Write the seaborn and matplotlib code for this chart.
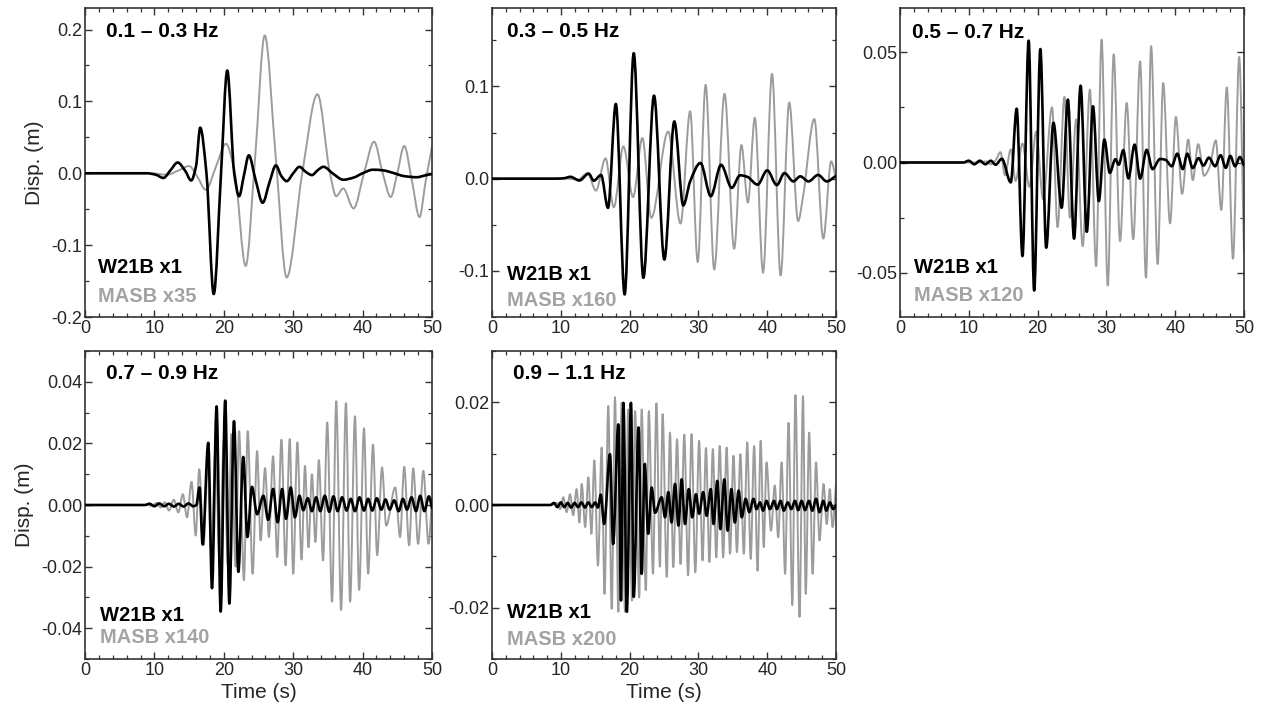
import numpy as np
import matplotlib
matplotlib.use("Agg")
import matplotlib.pyplot as plt
from matplotlib.path import Path
from matplotlib.patches import PathPatch
from matplotlib.ticker import MultipleLocator, FormatStrFormatter
import seaborn as sns

# ---------------------------------------------------------------------------
# Band-passed displacement records (time in s, displacement in m).
# W21B is shown at true scale, MASB is multiplied by the factor in MASB_SCALE.
# ---------------------------------------------------------------------------
BANDS = ["0.1 \u2013 0.3 Hz", "0.3 \u2013 0.5 Hz", "0.5 \u2013 0.7 Hz",
         "0.7 \u2013 0.9 Hz", "0.9 \u2013 1.1 Hz"]
MASB_SCALE = [35, 160, 120, 140, 200]

# 0.1 - 0.3 Hz
w21b_t_1 = [0, 8.9, 10.2, 11.3, 12.3, 13.35, 14.4, 15.3, 16.0, 16.6, 17.5,
            18.55, 19.6, 20.5, 21.5, 22.2, 22.9, 23.6, 24.6, 25.6,
            26.6, 27.5, 28.3, 29.06, 30.0, 30.9, 31.8, 32.7, 33.5, 34.35, 35.8, 37.2, 38.7,
            40.0, 41.5, 43.0, 44.4, 46.0, 47.8, 49.0, 50.0]
w21b_d_1 = [0, 0, -0.002, -0.0065, 0.004, 0.015, 0.004, -0.010, 0.01, 0.0635, 0.0,
            -0.168, 0.0, 0.143, 0.0, -0.032, -0.003, 0.025, -0.01, -0.041,
            -0.012, 0.011, -0.004, -0.011, 0.0, 0.009, 0.002, -0.0025, 0.004, 0.009, -0.001, -0.009, -0.006,
            0.0, 0.005, 0.004, 0.0005, -0.004, -0.0055, -0.003, -0.001]
masb_t_1 = [0, 9.4, 11.8, 13.5, 15.0, 16.2, 17.4, 18.9, 20.3, 21.6, 23.15,
            24.5, 25.9, 27.5, 29.06, 31.3, 33.5,
            35.3, 36.2, 37.2, 38.7, 40.2, 41.65, 42.9, 44.05, 45.0, 46.0, 47.1, 48.2, 49.1, 50.0]
masb_d_1 = [0, 0, -0.002, 0.004, 0.010, -0.005, -0.023, 0.01, 0.041, 0.0, -0.129,
            0.02, 0.192, 0.02, -0.145, 0.0, 0.110,
            0.0, -0.032, -0.021, -0.049, 0.0, 0.044, 0.0, -0.033, 0.0, 0.038, -0.01, -0.061, -0.01, 0.037]

# 0.3 - 0.5 Hz
w21b_t_2 = [0, 9.4, 10.5, 11.4, 12.7, 14.05, 14.8, 15.85, 16.86, 18.0, 19.28, 20.6, 22.0, 23.55,
            25.05, 26.5, 27.8, 28.8, 30.3, 31.8, 33.3, 34.85, 36.05, 37.1, 38.6, 40.0, 41.4,
            42.5, 43.8, 44.8, 46.0, 47.4, 48.65, 50.0]
w21b_d_2 = [0, 0, 0.0005, 0.002, -0.002, 0.0054, -0.0022, 0.004, -0.0317, 0.081, -0.1255, 0.136, -0.1075, 0.090,
            -0.0877, 0.062, -0.029, -0.003, 0.017, -0.019, 0.015, -0.010, 0.0036, 0.002, -0.0065, 0.009, -0.007,
            0.006, -0.003, 0.0025, -0.003, 0.004, -0.003, 0.003]
masb_t_2 = [0, 11.0, 12.5, 13.9, 15.1, 16.5, 17.7, 19.1, 20.5, 21.85, 23.15, 25.6, 27.4, 28.8,
            29.9, 31.05, 32.3, 33.8, 35.2, 36.25, 37.2, 38.2, 39.4, 40.7, 41.95, 43.2, 44.5,
            45.2, 46.85, 48.15, 49.3, 50.0]
masb_d_2 = [0, 0, -0.001, 0.006, -0.013, 0.022, -0.031, 0.035, -0.02, 0.044, -0.0425, 0.051, -0.0487, 0.073,
            -0.0905, 0.1017, -0.0985, 0.092, -0.076, 0.0364, -0.026, 0.066, -0.102, 0.1136, -0.105, 0.0826, -0.046,
            -0.02, 0.0646, -0.065, 0.0187, 0.0]

# 0.5 - 0.7 Hz
w21b_t_3 = [0, 9.2, 10.0, 10.8, 11.6, 12.4, 13.2, 13.9, 14.8, 16.1, 16.96, 17.8, 18.7, 19.5,
            20.4, 21.25, 22.3, 23.5, 24.4, 25.3, 26.25, 27.15, 28.05, 28.9, 29.7, 30.5, 31.3,
            31.8, 32.45, 33.2, 34.1, 34.9, 35.85, 36.7, 37.8, 38.6, 39.5, 40.3, 41.1, 41.75,
            42.55, 43.4, 44.1, 44.9, 45.8, 46.6, 47.35, 48.0, 48.7, 49.4, 50.0]
w21b_d_3 = [0, 0, 0.0008, -0.0008, 0.0008, -0.0008, 0.0008, -0.001, 0.0017, -0.009, 0.0244, -0.0424, 0.0552, -0.058,
            0.0514, -0.0386, 0.018, -0.0205, 0.0285, -0.0345, 0.0348, -0.0314, 0.0255, -0.0175, 0.0104, -0.0047, 0.0015,
            -0.001, 0.0056, -0.0072, 0.0081, -0.0073, 0.0057, -0.003, 0.0016, 0.0012, -0.0017, 0.004, -0.003, 0.004,
            -0.0025, 0.002, -0.0014, 0.0022, -0.0017, 0.0033, -0.0024, 0.003, -0.0017, 0.0025, -0.0013]
masb_t_3 = [0, 11.6, 12.5, 13.2, 13.9, 14.6, 15.26, 16.1, 16.8, 17.8, 18.8, 19.8, 20.8, 22.1,
            22.9, 23.9, 24.7, 25.6, 26.55, 27.6, 28.5, 29.3, 30.2, 31.06, 31.98, 32.95, 33.9,
            34.9, 35.75, 36.5, 37.45, 38.25, 39.25, 40.1, 41.0, 41.9, 42.55, 43.35, 44.2, 45.0,
            45.9, 46.7, 47.5, 48.4, 49.3, 50.0]
masb_d_3 = [0, 0, 0.0005, -0.0008, 0.001, 0.0047, -0.0057, 0.0059, -0.0083, 0.0086, -0.011, 0.014, -0.0167, 0.025,
            -0.0293, 0.0297, -0.025, 0.0195, -0.0379, 0.033, -0.047, 0.0557, -0.0557, 0.049, -0.0356, 0.027, -0.0348,
            0.0458, -0.0522, 0.0527, -0.046, 0.036, -0.0276, 0.0207, -0.0142, 0.0104, -0.008, 0.0083, -0.006, -0.002,
            0.010, -0.0215, 0.034, -0.0436, 0.0478, -0.041]

# 0.7 - 0.9 Hz
w21b_t_4 = [0, 8.6, 9.3, 10.0, 10.7, 11.4, 12.1, 12.8, 13.5, 14.2, 14.9, 15.6, 16.05, 16.5,
            16.95, 17.76, 18.3, 18.96, 19.55, 20.2, 20.8, 21.47, 22.1, 22.8, 23.4, 24.06, 24.8,
            25.7, 26.4, 27.1, 27.76, 28.4, 28.96, 29.64, 30.25, 30.9, 31.45, 32.1, 32.7, 33.3,
            33.9, 34.55, 35.2, 35.8, 36.4, 37.05, 37.7, 38.3, 38.9, 39.55, 40.2, 40.8, 41.4,
            42.05, 42.7, 43.3, 43.9, 44.55, 45.2, 45.8, 46.4, 47.05, 47.7, 48.3, 48.9, 49.55, 50.0]
w21b_d_4 = [0, 0, 0.0004, -0.0004, 0.0005, -0.0004, 0.0004, -0.0005, 0.0004, -0.0005, 0.0005, -0.0004, 0.0, 0.0057,
            -0.0128, 0.0202, -0.027, 0.032, -0.0346, 0.0339, -0.032, 0.0272, -0.0217, 0.0156, -0.0104, 0.0059, -0.003,
            0.003, -0.0048, 0.0052, -0.0056, 0.0052, -0.0045, 0.0057, -0.004, 0.003, -0.0017, 0.0022, -0.002, 0.0025,
            -0.002, 0.003, -0.0022, 0.0028, -0.002, 0.0025, -0.0018, 0.002, -0.002, 0.0025, -0.0018, 0.002, -0.0018,
            0.0022, -0.0015, 0.0018, -0.0015, 0.0015, -0.002, 0.002, -0.0015, 0.0025, -0.002, 0.003, -0.002, 0.0028, -0.001]
masb_t_4 = [0, 9.0, 9.7, 10.3, 10.9, 11.5, 12.1, 12.8, 13.45, 14.1, 14.7, 15.35, 15.95, 16.46,
            17.1, 17.6, 18.2, 18.8, 19.4, 20.0, 20.6, 21.1, 21.7, 22.2, 22.9, 23.45, 24.15,
            24.8, 25.3, 25.95, 26.5, 27.1, 27.7, 28.3, 28.9, 29.5, 30.0, 30.6, 31.2, 31.7,
            32.2, 32.7, 33.2, 33.7, 34.3, 34.9, 35.6, 36.2, 36.9, 37.6, 38.2, 38.9, 39.5,
            40.2, 40.8, 41.5, 42.1, 42.8, 43.4, 44.7, 45.4, 46.0, 46.7, 47.3, 48.0, 48.75, 49.5, 50.0]
masb_d_4 = [0, 0, -0.0003, 0.0007, -0.0008, 0.0009, -0.0018, 0.0017, -0.0024, 0.0035, -0.004, 0.0075, -0.0099, 0.0116,
            -0.013, 0.015, -0.016, 0.018, -0.019, 0.021, -0.02, 0.023, -0.02, 0.024, -0.0244, 0.024, -0.0223,
            0.0175, -0.0115, 0.012, -0.0104, 0.0158, -0.0169, 0.0212, -0.0196, 0.0214, -0.0223, 0.0203, -0.0177, 0.0127,
            -0.0137, 0.010, -0.012, 0.0146, -0.018, 0.0268, -0.0314, 0.0337, -0.0341, 0.0331, -0.0314, 0.0288, -0.0276,
            0.0249, -0.0223, 0.0196, -0.0163, 0.0122, -0.0067, 0.0057, -0.0104, 0.0124, -0.0131, 0.0119, -0.0126, 0.0111,
            -0.0126, 0.002]

# 0.9 - 1.1 Hz
w21b_t_5 = [0, 8.5, 9.0, 9.5, 10.0, 10.5, 11.0, 11.5, 12.0, 12.5, 13.0, 13.5, 14.0, 14.5, 15.0,
            15.4, 15.8, 16.3, 17.15, 17.6, 18.36, 18.75, 19.1, 19.6, 20.2, 20.6, 21.3, 21.75,
            22.2, 22.7, 23.2, 23.7, 24.66, 25.15, 25.63, 26.1, 26.6, 27.1, 27.57, 28.05, 28.6,
            29.1, 29.65, 30.1, 30.7, 31.2, 31.8, 32.2, 32.75, 33.2, 33.77, 34.25, 34.8, 35.3,
            35.85, 36.3, 36.87, 37.4, 38.0, 38.45, 38.95, 39.4, 39.9, 40.4, 41.0, 41.4, 41.95,
            42.4, 43.0, 43.5, 44.04, 44.5, 45.0, 45.5, 46.07, 46.56, 47.1, 47.6, 48.15, 48.6,
            49.1, 49.6, 50.0]
w21b_d_5 = [0, 0, 0.0004, -0.0004, 0.0005, -0.0004, 0.0004, -0.0005, 0.0004, -0.0004, 0.0005, -0.0005, 0.0005, -0.0004, 0.0005,
            -0.0005, 0.002, -0.0037, 0.0099, -0.0076, 0.0157, -0.0186, 0.0199, -0.0208, 0.0199, -0.0179, 0.0151, -0.0134,
            0.008, -0.0056, 0.0034, -0.0015, 0.0015, -0.0024, 0.0025, -0.0034, 0.0041, -0.004, 0.005, -0.0037, 0.0031,
            -0.0024, 0.0021, -0.0017, 0.0025, -0.0021, 0.0031, -0.0037, 0.0047, -0.0047, 0.005, -0.005, 0.0031, -0.0034,
            0.0028, -0.0024, 0.0012, -0.0014, 0.0012, -0.0008, 0.0005, -0.0011, 0.0008, -0.0008, 0.0008, -0.0008, 0.0008,
            -0.0011, 0.0005, -0.0008, 0.0008, -0.001, 0.0008, -0.001, 0.0008, -0.0011, 0.0012, -0.0014, 0.0008, -0.0011,
            0.0005, -0.0008, 0.0]
masb_t_5 = [0, 8.5, 9.4, 9.9, 10.37, 10.85, 11.34, 11.8, 12.3, 12.7, 13.04, 13.55, 14.0, 14.45,
            14.87, 15.4, 15.94, 16.35, 16.9, 17.4, 17.88, 18.36, 18.85, 19.33, 19.8, 20.35,
            20.8, 21.4, 21.75, 22.35, 22.8, 23.4, 23.9, 24.4, 24.8, 25.4, 25.87, 26.35, 26.9,
            27.4, 27.95, 28.5, 29.0, 29.55, 30.1, 30.6, 31.1, 31.6, 32.1, 32.6, 33.1, 33.6,
            34.1, 34.6, 35.1, 35.6, 36.1, 36.6, 37.1, 37.6, 38.1, 38.6, 39.05, 39.5, 39.9,
            40.55, 41.1, 41.6, 42.1, 42.6, 43.1, 43.65, 44.1, 44.7, 45.2, 45.6, 46.1, 46.6,
            47.1, 47.6, 48.2, 48.65, 49.1, 49.5, 50.0]
masb_d_5 = [0, 0, 0.0004, -0.0008, 0.0015, -0.0014, 0.0021, -0.002, 0.0031, -0.0034, 0.0041, -0.0043, 0.0054, -0.0056,
            0.0087, -0.0118, 0.0112, -0.0173, 0.0193, -0.0202, 0.021, -0.0208, 0.0199, -0.0208, 0.0186, -0.0186,
            0.0183, -0.018, 0.0186, -0.0166, 0.0183, -0.0134, 0.0198, -0.012, 0.0177, -0.014, 0.0141, -0.0121, 0.0128,
            -0.0115, 0.0137, -0.0137, 0.0138, -0.0131, 0.0125, -0.0108, 0.0111, -0.0111, 0.0109, -0.0102, 0.0115, -0.0102,
            0.0112, -0.0095, 0.0096, -0.0092, 0.0099, -0.0095, 0.0122, -0.0105, 0.0115, -0.0128, 0.0125, -0.0082, 0.0083,
            -0.005, 0.0038, -0.0063, 0.0083, -0.0134, 0.016, -0.0195, 0.0214, -0.0218, 0.0212, -0.0173, 0.0141, -0.0134,
            0.0083, -0.0069, 0.0041, -0.0037, 0.0031, -0.0043, 0.004]

W21B = [(w21b_t_1, w21b_d_1), (w21b_t_2, w21b_d_2), (w21b_t_3, w21b_d_3),
        (w21b_t_4, w21b_d_4), (w21b_t_5, w21b_d_5)]
MASB = [(masb_t_1, masb_d_1), (masb_t_2, masb_d_2), (masb_t_3, masb_d_3),
        (masb_t_4, masb_d_4), (masb_t_5, masb_d_5)]

# ---------------------------------------------------------------------------
# Per-panel axis settings
# ---------------------------------------------------------------------------
YLIMS = [(-0.2, 0.23), (-0.15, 0.185), (-0.07, 0.07), (-0.05, 0.05), (-0.03, 0.03)]
YMAJOR = [0.1, 0.1, 0.05, 0.02, 0.02]
YMINOR = [0.05, 0.05, 0.025, 0.01, 0.01]
YFMT = ["%.1f", "%.1f", "%.2f", "%.2f", "%.2f"]

# axes rectangles in figure pixels: left, top, right, bottom
W, H = 1261, 711
RECTS = [(85, 8, 432, 317), (492, 8, 836, 317), (900, 8, 1244, 317),
         (85, 351, 432, 659), (492, 351, 836, 659)]
TITLE_POS = [(0.061, 0.923), (0.043, 0.923), (0.036, 0.92), (0.061, 0.928), (0.06, 0.928)]
STA_POS = [(0.037, 0.159, 0.065), (0.043, 0.136, 0.055), (0.042, 0.160, 0.068),
           (0.043, 0.141, 0.069), (0.043, 0.152, 0.064)]

sns.set_theme(style="ticks")
plt.rcParams["font.family"] = ["Liberation Sans", "DejaVu Sans"]
plt.rcParams["axes.unicode_minus"] = False

BLACK = "#000000"
GREY = "#9c9c9c"
GREY_TXT = "#a3a3a3"


def trace_path(t, d):
    """Smooth, shape-preserving (monotone cubic) Bezier path through the samples."""
    t = np.asarray(t, float)
    d = np.asarray(d, float)
    h = np.diff(t)
    s = np.diff(d) / h
    m = np.zeros_like(d)
    m[0], m[-1] = s[0], s[-1]
    for k in range(1, len(d) - 1):
        if s[k - 1] * s[k] > 0:
            w1 = 2 * h[k] + h[k - 1]
            w2 = h[k] + 2 * h[k - 1]
            m[k] = (w1 + w2) / (w1 / s[k - 1] + w2 / s[k])
    verts = [(t[0], d[0])]
    codes = [Path.MOVETO]
    for k in range(len(d) - 1):
        dt = h[k] / 3.0
        verts += [(t[k] + dt, d[k] + m[k] * dt),
                  (t[k + 1] - dt, d[k + 1] - m[k + 1] * dt),
                  (t[k + 1], d[k + 1])]
        codes += [Path.CURVE4] * 3
    return Path(verts, codes)


def draw_trace(ax, t, d, color, lw, z):
    ax.add_patch(PathPatch(trace_path(t, d), facecolor="none", edgecolor=color,
                           linewidth=lw, joinstyle="round", capstyle="round", zorder=z))


fig = plt.figure(figsize=(W / 100, H / 100), dpi=100)

for i in range(5):
    l, t, r, b = RECTS[i]
    ax = fig.add_axes([l / W, (H - b) / H, (r - l) / W, (b - t) / H])

    mt, md = MASB[i]
    wt, wd = W21B[i]
    draw_trace(ax, mt, md, GREY, 1.4, 2)
    draw_trace(ax, wt, wd, BLACK, 1.9, 3)

    ax.set_xlim(0, 50)
    ax.set_ylim(*YLIMS[i])
    ax.xaxis.set_major_locator(MultipleLocator(10))
    ax.xaxis.set_minor_locator(MultipleLocator(2))
    ax.yaxis.set_major_locator(MultipleLocator(YMAJOR[i]))
    ax.yaxis.set_minor_locator(MultipleLocator(YMINOR[i]))
    ax.yaxis.set_major_formatter(FormatStrFormatter(YFMT[i]))
    ax.xaxis.set_major_formatter(FormatStrFormatter("%d"))
    ax.tick_params(which="both", direction="in", top=True, right=True,
                   color="#333333", labelsize=13, pad=2)
    ax.tick_params(which="major", length=5, width=1.0)
    ax.tick_params(which="minor", length=3, width=0.9)
    for sp in ax.spines.values():
        sp.set_linewidth(1.2)
        sp.set_color("#333333")

    ax.set_xlabel("Time (s)" if i >= 3 else "", fontsize=15, labelpad=3)
    ax.set_ylabel("Disp. (m)" if i in (0, 3) else "", fontsize=15, labelpad=5)

    tx, ty = TITLE_POS[i]
    ax.text(tx, ty, BANDS[i], transform=ax.transAxes, fontsize=15, fontweight="bold",
            va="center", ha="left", color="black")
    sx, sy1, sy2 = STA_POS[i]
    ax.text(sx, sy1, "W21B x1", transform=ax.transAxes, fontsize=14.5, fontweight="bold",
            va="center", ha="left", color="black")
    ax.text(sx, sy2, "MASB x%d" % MASB_SCALE[i], transform=ax.transAxes, fontsize=14.5,
            fontweight="bold", va="center", ha="left", color=GREY_TXT)

fig.savefig("out.png", dpi=100)
